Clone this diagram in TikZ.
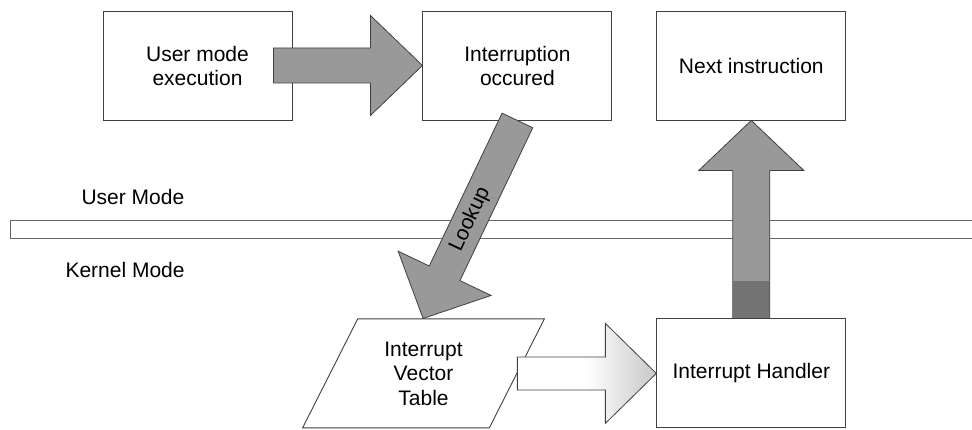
\documentclass[tikz,border=0pt]{standalone}
\usepackage{fontspec}
\setmainfont{Liberation Sans}
\usetikzlibrary{positioning,calc,shapes.geometric}

% block arrow: [style]{from}{to}{shaft half width}{head half width}{head length}
\newcommand{\fatarrow}[6][]{%
  \path[#1] let \p1=(#2), \p2=(#3),
      \n1={atan2(\y2-\y1,\x2-\x1)}, \n2={veclen(\x2-\x1,\y2-\y1)} in
    ($(\p1)+(\n1+90:#4)$) --
    ($(\p1)+(\n1:{\n2-#6})+(\n1+90:#4)$) --
    ($(\p1)+(\n1:{\n2-#6})+(\n1+90:#5)$) --
    (\p2) --
    ($(\p1)+(\n1:{\n2-#6})+(\n1-90:#5)$) --
    ($(\p1)+(\n1:{\n2-#6})+(\n1-90:#4)$) --
    ($(\p1)+(\n1-90:#4)$) -- cycle;}

\begin{document}
\begin{tikzpicture}[
  x=1pt, y=-1pt,
  box/.style={rectangle, draw=black!75, line width=0.9pt, minimum width=189pt, minimum height=109pt, align=center, font=\fontsize{21}{24}\selectfont},
  ivtbox/.style={trapezium, trapezium left angle=63.2, trapezium right angle=116.8, trapezium stretches=true, draw=black!75, line width=0.9pt, minimum width=242pt, minimum height=109pt, align=center, font=\fontsize{21}{24.5}\selectfont},
  lbl/.style={anchor=west, font=\fontsize{21}{24}\selectfont},
  garr/.style={fill=black!40, draw=black!75, line width=0.8pt},
  warr/.style={left color=white, right color=black!22, middle color=white, draw=black!75, line width=0.8pt},
  band/.style={draw=black!60, line width=0.9pt}
]
  \useasboundingbox (0,0) rectangle (972,430);

  % Mode band
  \draw[band] (972,220) -- (10,220) -- (10,238) -- (972,238);
  \node[lbl] (usermode) at (78,197) {User Mode};
  \node[lbl] (kernelmode) at (62,270) {Kernel Mode};

  % User side
  \node[box] (user) at (197.5,65.5) {User mode\\execution};
  \node[box, right=130pt of user] (occur) {Interruption\\occured};
  \node[box, right=44pt of occur] (next) {Next instruction};

  % Kernel side
  \node[box, below=198pt of next] (handler) {Interrupt Handler};
  \node[ivtbox, anchor=right side] (ivt) at ([xshift=-139pt]handler.west) {Interrupt\\Vector\\Table};

  % Arrow ends
  \coordinate (ua) at ([xshift=-19pt]user.east);
  \coordinate (lt) at ($(ivt.top left corner)!0.35!(ivt.top right corner)$);

  % Arrows
  \fatarrow[garr]{ua}{occur.west}{17.5pt}{50pt}{52pt}
  \fatarrow[garr]{occur.south}{lt}{17pt}{51.5pt}{50pt}
  \fatarrow[garr]{handler.north}{next.south}{18.5pt}{52.5pt}{50pt}
  \fill[black!55] ([xshift=-18.1pt]handler.north) rectangle ([xshift=18.1pt,yshift=37pt]handler.north);
  \fatarrow[warr]{ivt.right side}{handler.west}{16.5pt}{50pt}{51pt}

  \node[rotate=65, font=\fontsize{21}{24}\selectfont] (lookup) at ($(occur.south)!0.5!(lt)$) {Lookup};
\end{tikzpicture}
\end{document}
